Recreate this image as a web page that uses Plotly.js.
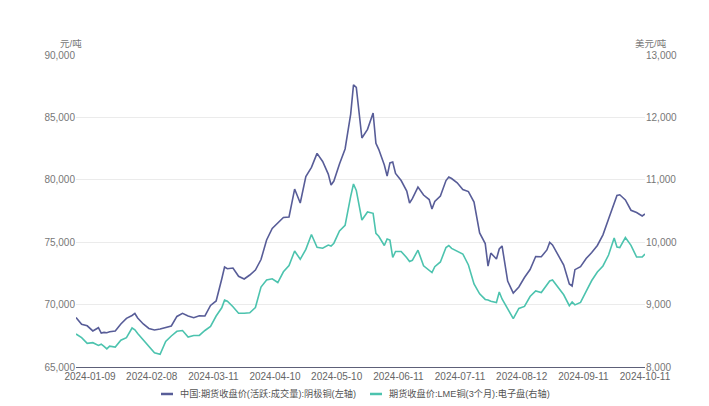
<!DOCTYPE html>
<html>
<head>
<meta charset="utf-8">
<script src="https://cdn.plot.ly/plotly-3.0.1.min.js"></script>
<style>
html,body{margin:0;padding:0;background:#fff;}
#chart{width:709px;height:406px;}
</style>
</head>
<body>
<div id="chart"></div>
<script>
// Trading dates (2024, MM-DD)
const dates = ["01-02","01-04","01-08","01-10","01-12","01-15","01-16","01-17","01-18","01-22","01-24","01-26","01-30","01-31",
"02-01","02-05","02-07","02-09","02-13","02-15","02-19","02-21","02-23","02-27","02-29",
"03-04","03-06","03-08","03-12","03-14","03-15","03-18","03-20","03-22","03-26","03-28",
"04-01","04-03","04-05","04-09","04-11","04-15","04-17","04-19","04-23","04-25","04-29",
"05-01","05-03","05-07","05-08","05-09","05-13","05-15","05-17","05-20","05-21","05-23","05-27","05-29","05-30","05-31",
"06-04","06-05","06-06","06-07","06-10","06-12","06-14","06-17","06-18","06-20","06-24","06-26","06-27","06-28",
"07-02","07-04","07-05","07-08","07-10","07-12","07-16","07-18","07-22","07-24","07-25","07-26","07-30","07-31",
"08-01","08-05","08-07","08-09","08-13","08-15","08-19","08-21","08-23","08-26","08-27","08-29",
"09-02","09-04","09-05","09-06","09-10","09-12","09-16","09-18","09-20","09-24","09-26","09-27","09-30",
"10-02","10-04","10-08","10-10","10-11"];

// 中国:期货收盘价(活跃:成交量):阴极铜 (元/吨)
const shfeCopper = [68970,68420,68300,67890,68150,67720,67770,67750,67820,67890,68450,68900,69130,69290,
68930,68450,68090,67970,68050,68170,68290,69050,69300,69090,68950,
69110,69090,69930,70290,72050,73010,72870,72930,72270,72050,72370,
72770,73610,75180,76100,76540,76980,77020,79260,78140,80260,81000,
82120,81470,80460,79580,79900,81270,82470,85270,87600,87400,83350,84040,85350,82920,82440,
81190,80300,81350,81430,80510,79940,79100,78140,78490,79420,78780,78420,77660,78260,
78700,79940,80220,80100,79760,79220,79060,78220,75740,74890,73090,74130,73650,74460,
74700,71890,70930,71410,72170,72810,73850,73830,74380,74980,74780,74030,
73170,71650,71490,72800,73040,73690,74170,74740,75590,76860,78180,78740,78800,
78390,77560,77380,77100,77260];

// 期货收盘价:LME铜(3个月):电子盘 (美元/吨)
const lmeCopper = [8530,8470,8380,8390,8345,8365,8330,8290,8335,8320,8430,8470,8625,8596,
8537,8433,8316,8228,8205,8409,8497,8572,8585,8481,8505,
8506,8585,8649,8817,8949,9071,9053,8966,8861,8862,8870,
8954,9282,9394,9413,9354,9526,9625,9859,9726,9885,10123,
9918,9904,9955,9939,9984,10180,10271,10734,10933,10830,10356,10484,10463,10143,10095,
9947,10051,10035,9755,9851,9851,9752,9691,9710,9872,9622,9551,9514,9607,
9683,9915,9947,9901,9856,9811,9635,9330,9173,9083,9074,9053,9034,9202,
9090,8923,8776,8938,8970,9130,9218,9194,9309,9378,9394,9266,
9157,8982,9042,8995,9034,9213,9386,9522,9619,9795,10067,9923,9913,
10074,9949,9763,9763,9811];

const tickDates = ["01-09","02-08","03-11","04-10","05-10","06-11","07-11","08-12","09-11","10-11"];
const seriesNames = ["中国:期货收盘价(活跃:成交量):阴极铜(左轴)","期货收盘价:LME铜(3个月):电子盘(右轴)"];
const seriesColors = ["#585d98", "#4cc3ae"];
const leftUnit = "元/吨";
const rightUnit = "美元/吨";

const x = dates.map(d => "2024-" + d);
const tickVals = tickDates.map(d => "2024-" + d);

const FONT = "Liberation Sans, Noto Sans CJK SC, sans-serif";
const traces = [
  {x: x, y: shfeCopper, type: "scatter", mode: "lines", name: seriesNames[0],
   line: {color: seriesColors[0], width: 1.6}, yaxis: "y", showlegend: false},
  {x: x, y: lmeCopper, type: "scatter", mode: "lines", name: seriesNames[1],
   line: {color: seriesColors[1], width: 1.6}, yaxis: "y2", showlegend: false}
];

// custom compact legend (short line keys like the original)
const legY = -0.0865;
const legKeys = [[0.1494, 0.1705, 0.1793], [0.5167, 0.5378, 0.5466]];
const shapes = legKeys.map((k, i) => ({
  type: "line", xref: "paper", yref: "paper", x0: k[0], x1: k[1], y0: legY, y1: legY,
  line: {color: seriesColors[i], width: 2.5}
}));
const legendTexts = legKeys.map((k, i) => ({
  text: seriesNames[i], xref: "paper", yref: "paper", x: k[2], y: legY,
  xanchor: "left", yanchor: "middle", showarrow: false,
  font: {size: 9.2, color: "#555"}
}));

const layout = {
  width: 709, height: 406,
  margin: {l: 76, r: 64, t: 55, b: 39, pad: 0},
  paper_bgcolor: "#fff", plot_bgcolor: "#fff",
  font: {family: FONT, size: 10, color: "#777"},
  showlegend: false,
  xaxis: {
    type: "date",
    range: ["2024-01-02", "2024-10-11"],
    rangebreaks: [{bounds: ["sat", "mon"]}],
    tickmode: "array", tickvals: tickVals, ticktext: tickVals,
    showgrid: false, zeroline: false,
    showline: true, linecolor: "#5d6078", linewidth: 1.2,
    ticks: "", tickfont: {size: 10, color: "#666"}
  },
  yaxis: {
    range: [65000, 90000], dtick: 5000, tick0: 65000, tickformat: ",d",
    showgrid: true, gridcolor: "#ebebeb", gridwidth: 1, zeroline: false,
    showline: false, ticks: "", tickfont: {size: 10, color: "#777"}
  },
  yaxis2: {
    range: [8000, 13000], dtick: 1000, tick0: 8000, tickformat: ",d",
    overlaying: "y", side: "right", showgrid: false, zeroline: false,
    showline: false, ticks: "", tickfont: {size: 10, color: "#777"}
  },
  shapes: shapes,
  annotations: [
    {text: leftUnit, xref: "paper", yref: "paper", x: 0, y: 1, xanchor: "right", yanchor: "bottom",
     xshift: 8, yshift: 4, showarrow: false, font: {size: 9.5, color: "#777"}},
    {text: rightUnit, xref: "paper", yref: "paper", x: 1, y: 1, xanchor: "left", yanchor: "bottom",
     xshift: -12, yshift: 4, showarrow: false, font: {size: 9.5, color: "#777"}}
  ].concat(legendTexts)
};

Plotly.newPlot("chart", traces, layout, {displayModeBar: false, staticPlot: true});
</script>
</body>
</html>
